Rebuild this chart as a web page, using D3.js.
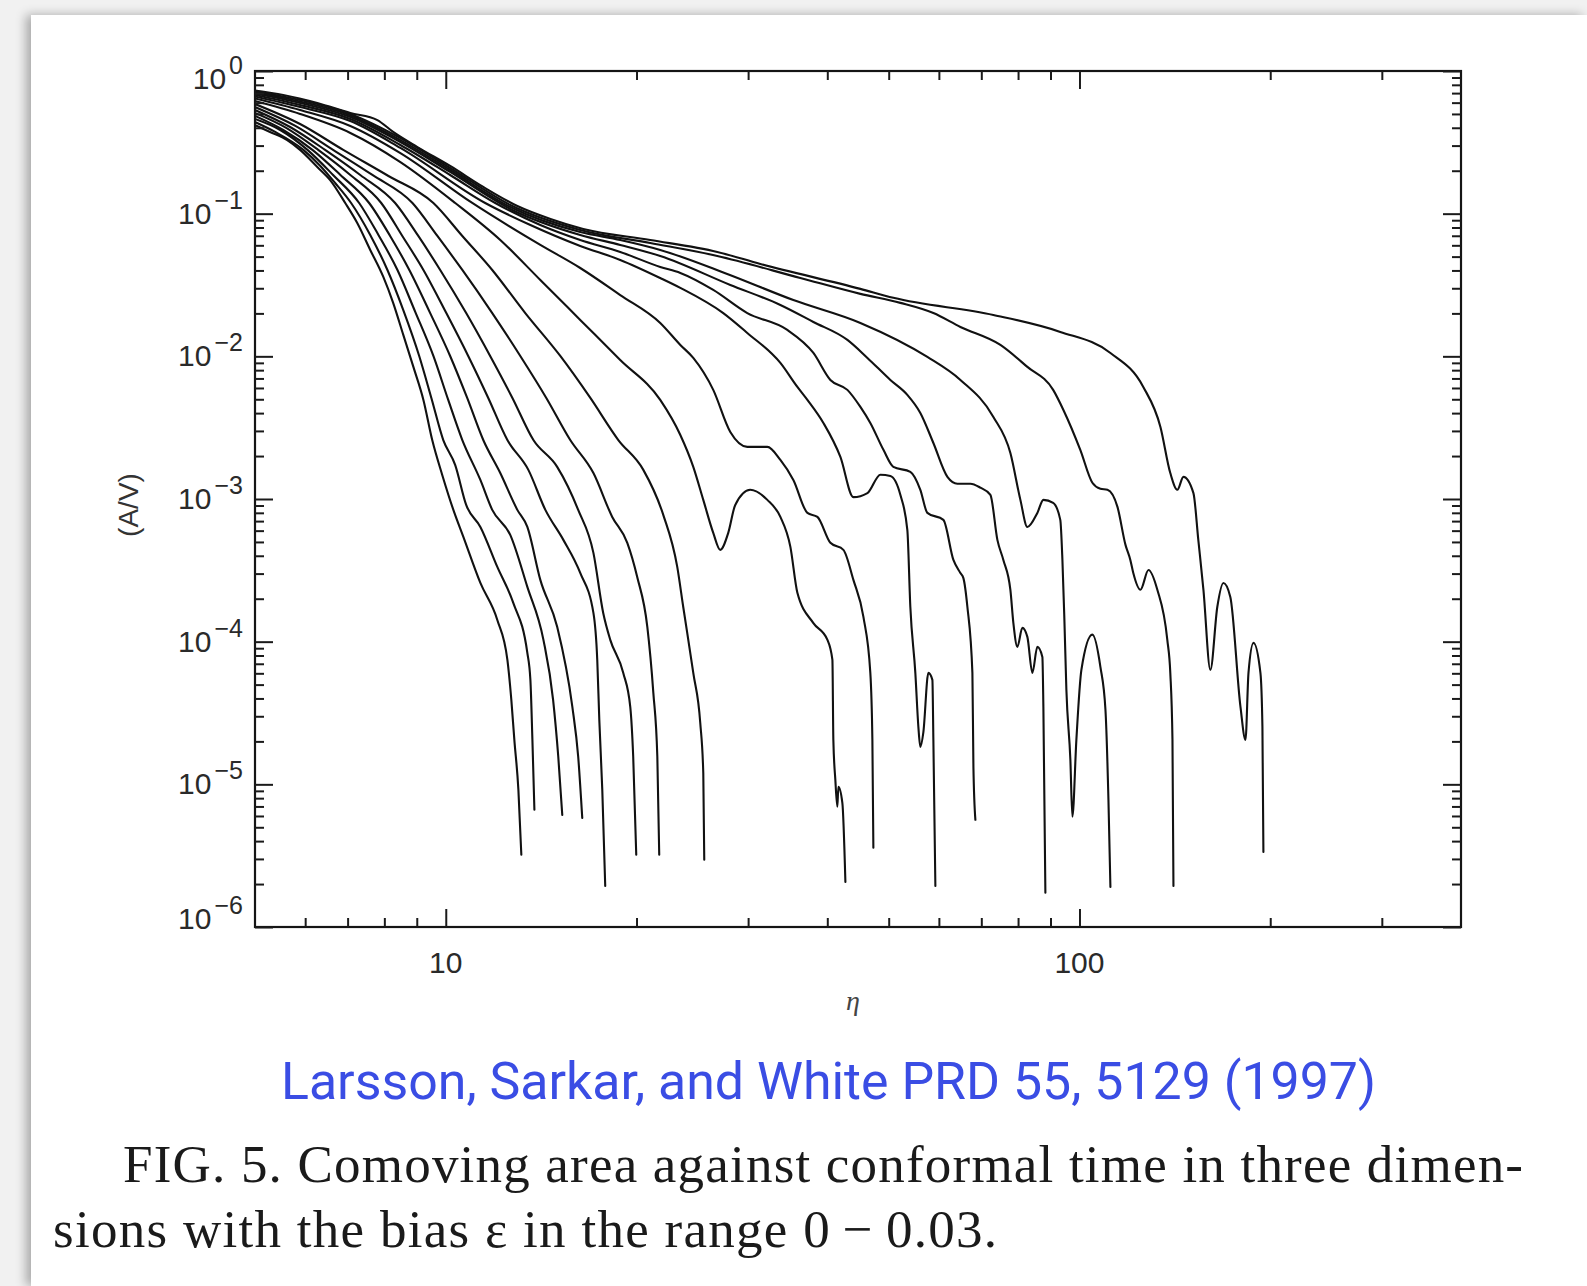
<!DOCTYPE html>
<html><head><meta charset="utf-8">
<script src="https://cdn.jsdelivr.net/npm/d3@7"></script>
<style>
html,body{margin:0;padding:0;background:#f1f1f1;width:1587px;height:1286px;overflow:hidden}
#card{position:absolute;left:31px;top:15px;width:1556px;height:1271px;background:#fff;box-shadow:-5px 0 10px rgba(0,0,0,0.30)}
svg{position:absolute;left:0;top:0}
</style></head><body><div id="card"></div><svg id="chart" width="1587" height="1286"></svg>
<script>
// ---- data (eta, A/V) ----
const etaDomain = [5, 400];
const areaDomain = [1e-6, 1];
const yTickExponents = [0, -1, -2, -3, -4, -5, -6];
const xTickLabels = [10, 100];
const xMinorTicks = [6, 7, 8, 9, 20, 30, 40, 50, 60, 70, 80, 90, 200, 300];

const curve01 = [[5.0,0.418],[5.28,0.374],[5.62,0.328],[5.89,0.280],[6.27,0.2125],[6.57,0.172],[6.94,0.1188],[7.25,0.0861],[7.60,0.0557],[7.97,0.0360],[8.26,0.0237],[8.57,0.01413],[8.89,0.00843],[9.22,0.00495],[9.52,0.00259],[9.87,0.00148],[10.28,0.000839],[10.66,0.000543],[11.34,0.000258],[12.06,0.000142],[12.51,0.0000746],[12.69,0.0000391],[12.83,0.0000205],[13.02,0.00000915],[13.16,0.00000321]];
const curve02 = [[5.0,0.439],[5.38,0.374],[5.96,0.280],[6.34,0.216],[6.69,0.164],[7.09,0.1188],[7.60,0.0709],[8.09,0.0403],[8.57,0.0211],[9.08,0.01006],[9.49,0.00511],[9.91,0.00259],[10.35,0.00173],[10.77,0.000909],[11.34,0.000637],[12.06,0.000334],[12.78,0.000187],[13.45,0.0000835],[13.60,0.0000540],[13.70,0.0000205],[13.80,0.00000663]];
const curve03 = [[5.0,0.461],[5.48,0.386],[6.05,0.280],[6.64,0.1867],[7.30,0.1188],[7.83,0.0709],[8.39,0.0403],[8.95,0.0205],[9.56,0.01006],[10.09,0.00495],[10.62,0.00259],[11.34,0.00136],[11.84,0.000839],[12.64,0.000560],[13.45,0.000242],[14.26,0.000103],[14.77,0.0000391],[15.05,0.0000156],[15.27,0.00000611]];
const curve04 = [[5.0,0.484],[5.54,0.386],[6.16,0.280],[6.82,0.1867],[7.57,0.1188],[8.17,0.0698],[8.76,0.0403],[9.45,0.0201],[10.16,0.01006],[10.81,0.00511],[11.46,0.00259],[12.19,0.00152],[12.97,0.000839],[13.45,0.000637],[14.10,0.000271],[14.99,0.000127],[15.84,0.0000349],[16.18,0.0000156],[16.42,0.00000582]];
const curve05 = [[5.0,0.508],[5.60,0.399],[6.29,0.280],[7.07,0.1867],[7.91,0.1188],[8.54,0.0698],[9.22,0.0403],[10.02,0.0201],[10.85,0.01006],[11.67,0.00511],[12.51,0.00259],[13.50,0.00160],[14.36,0.000839],[15.33,0.000517],[16.30,0.000303],[17.10,0.000159],[17.34,0.0000746],[17.47,0.0000283],[17.66,0.00000915],[17.85,0.00000194]];
const curve06 = [[5.0,0.533],[5.68,0.405],[6.45,0.280],[7.33,0.1867],[8.32,0.1188],[9.05,0.0698],[9.80,0.0403],[10.77,0.0201],[11.75,0.01006],[12.74,0.00511],[13.75,0.00259],[14.99,0.00168],[16.18,0.000839],[17.10,0.000419],[17.72,0.000159],[18.18,0.000103],[19.06,0.0000604],[19.55,0.0000349],[19.76,0.0000156],[19.98,0.00000321]];
const curve07 = [[5.0,0.559],[5.79,0.412],[6.64,0.280],[7.66,0.1867],[8.86,0.1188],[9.70,0.0698],[10.62,0.0403],[11.84,0.0201],[13.11,0.01006],[14.41,0.00511],[15.72,0.00259],[17.10,0.00152],[18.31,0.000749],[19.34,0.000493],[20.05,0.000284],[20.80,0.000127],[21.26,0.0000438],[21.57,0.0000156],[21.72,0.00000321]];
const curve08 = [[5.0,0.587],[5.89,0.425],[6.89,0.280],[8.12,0.1837],[9.56,0.1188],[10.62,0.0698],[11.84,0.0403],[13.35,0.0201],[15.16,0.01006],[16.91,0.00511],[18.72,0.00259],[20.50,0.00160],[22.04,0.000774],[23.19,0.000334],[23.70,0.000175],[24.58,0.0000604],[25.21,0.0000270],[25.49,0.0000120],[25.58,0.00000296]];
const curve09 = [[5.0,0.616],[5.89,0.4996],[7.07,0.368],[8.48,0.230],[10.35,0.1188],[12.19,0.0654],[14.10,0.0343],[16.30,0.0180],[18.85,0.00943],[21.80,0.00495],[23.45,0.00281],[24.58,0.00168],[25.49,0.000986],[26.43,0.000579],[27.11,0.000440],[27.91,0.000579],[28.63,0.000909],[30.23,0.00116],[32.17,0.000986],[33.73,0.000749],[34.98,0.000462],[35.88,0.000220],[38.03,0.000135],[40.02,0.000103],[40.75,0.0000746],[40.89,0.0000205],[41.19,0.0000107],[41.49,0.00000696],[41.64,0.00000960],[42.25,0.00000742],[42.72,0.00000207]];
const curve10 = [[5.0,0.642],[5.89,0.533],[7.07,0.412],[8.48,0.266],[11.01,0.1188],[14.10,0.0604],[16.30,0.0416],[18.85,0.0269],[21.80,0.01714],[23.45,0.01202],[24.58,0.00975],[26.43,0.00582],[28.12,0.00295],[29.91,0.00232],[32.17,0.00232],[33.73,0.00188],[35.36,0.00136],[37.21,0.000799],[38.59,0.000749],[40.45,0.000493],[42.41,0.000440],[43.98,0.000271],[45.61,0.000149],[46.77,0.0000604],[47.12,0.0000205],[47.29,0.00000359]];
const curve11 = [[5.0,0.663],[5.89,0.559],[7.07,0.446],[8.48,0.289],[11.54,0.1188],[13.60,0.0833],[16.30,0.0594],[18.85,0.0474],[21.80,0.0354],[23.45,0.0302],[27.41,0.0201],[29.91,0.01459],[33.73,0.00899],[35.88,0.00610],[37.21,0.00495],[39.44,0.00341],[41.95,0.00197],[43.98,0.00103],[46.28,0.00110],[48.52,0.00148],[50.30,0.00145],[52.16,0.00107],[53.50,0.000607],[54.09,0.000175],[55.08,0.0000604],[55.69,0.0000253],[56.09,0.0000183],[56.70,0.0000230],[57.75,0.0000604],[58.60,0.0000540],[58.81,0.0000205],[59.24,0.00000194]];
const curve12 = [[5.0,0.679],[5.89,0.578],[7.07,0.461],[8.48,0.303],[10.16,0.1867],[11.97,0.1188],[14.10,0.0833],[16.30,0.0654],[18.85,0.0539],[21.80,0.0423],[23.45,0.0384],[26.43,0.0292],[29.91,0.0201],[34.59,0.01531],[38.03,0.01056],[40.45,0.00683],[43.03,0.00582],[45.11,0.00442],[46.77,0.00341],[49.05,0.00221],[50.85,0.00168],[54.09,0.00155],[56.09,0.00116],[57.54,0.000799],[60.99,0.000714],[63.25,0.000374],[64.88,0.000303],[65.59,0.000279],[66.55,0.000175],[67.77,0.0000604],[68.02,0.0000133],[68.51,0.00000564]];
const curve13 = [[5.0,0.6955],[5.89,0.597],[7.07,0.476],[8.48,0.318],[10.16,0.196],[12.64,0.1079],[16.30,0.0709],[18.85,0.0604],[21.80,0.0505],[28.12,0.03165],[33.73,0.0229],[38.03,0.01742],[43.03,0.01303],[46.28,0.00975],[50.30,0.00683],[53.50,0.00537],[56.09,0.00401],[58.81,0.00247],[61.89,0.00143],[64.18,0.00128],[67.28,0.00128],[69.77,0.00120],[72.35,0.00107],[74.21,0.000517],[75.84,0.000374],[77.80,0.000231],[78.65,0.000135],[79.80,0.0000920],[81.26,0.000125],[82.75,0.000108],[84.27,0.0000604],[85.81,0.0000920],[87.39,0.0000782],[87.71,0.0000349],[88.35,0.00000174]];
const curve14 = [[5.0,0.707],[5.89,0.611],[7.07,0.488],[8.48,0.328],[10.16,0.2024],[12.64,0.1114],[16.30,0.0744],[18.85,0.0654],[21.80,0.0557],[27.81,0.0378],[35.36,0.0248],[45.11,0.01714],[57.54,0.00990],[64.88,0.00683],[73.14,0.00376],[77.80,0.00210],[80.68,0.000986],[82.75,0.000637],[85.81,0.000799],[87.71,0.000986],[90.88,0.000939],[93.27,0.000714],[93.99,0.000374],[94.67,0.000142],[95.36,0.0000459],[96.75,0.0000148],[97.46,0.00000592],[98.88,0.0000205],[100.7,0.0000634],[104.8,0.000112],[107.9,0.0000666],[109.9,0.0000333],[111.1,0.00000779],[111.9,0.00000191]];
const curve15 = [[5.0,0.7185],[5.89,0.626],[7.07,0.4996],[8.48,0.339],[10.16,0.209],[12.64,0.1151],[16.30,0.0769],[21.02,0.0623],[26.82,0.0505],[36.27,0.0354],[45.11,0.0274],[52.16,0.0237],[58.81,0.0201],[64.88,0.01607],[75.03,0.01202],[82.75,0.00843],[90.88,0.00582],[94.33,0.00421],[100.3,0.00221],[104.8,0.00130],[107.9,0.00118],[110.7,0.00116],[114.8,0.000880],[118.2,0.000477],[120.3,0.000374],[121.6,0.000303],[124.8,0.000231],[128.5,0.000318],[132.7,0.000231],[137.6,0.000103],[139.1,0.0000604],[140.2,0.0000205],[140.7,0.00000194]];
const curve16 = [[5.0,0.730],[5.54,0.679],[6.27,0.597],[7.07,0.508],[7.80,0.453],[8.26,0.374],[9.02,0.293],[10.16,0.216],[11.46,0.154],[12.97,0.1132],[14.63,0.0918],[16.48,0.0781],[21.02,0.0654],[26.82,0.0539],[31.36,0.0444],[45.11,0.0297],[50.85,0.0257],[73.14,0.0195],[93.27,0.01483],[111.9,0.01056],[126.1,0.00610],[134.2,0.00320],[139.1,0.00152],[142.7,0.00116],[145.9,0.00143],[151.3,0.00110],[154.0,0.000517],[156.9,0.000231],[160.9,0.0000634],[165.0,0.000175],[168.7,0.000258],[173.0,0.000206],[179.5,0.0000349],[182.8,0.0000205],[184.8,0.0000604],[188.2,0.0000981],[193.0,0.0000604],[194.4,0.0000253],[195.1,0.00000336]];

const curves = [curve01, curve02, curve03, curve04, curve05, curve06, curve07, curve08,
                curve09, curve10, curve11, curve12, curve13, curve14, curve15, curve16];

const refText = "Larsson, Sarkar, and White PRD 55, 5129 (1997)";
const captionLines = ["FIG. 5. Comoving area against conformal time in three dimen-",
                      "sions with the bias \u03b5 in the range 0\u2009\u2212\u20090.03."];

// ---- drawing ----
const svg = d3.select("#chart");
const L = 255, R = 1461, T = 71, B = 927;
const x = d3.scaleLog().domain(etaDomain).range([L, R]);
const y = d3.scaleLog().domain(areaDomain).range([B, T]);

svg.append("clipPath").attr("id", "plotclip")
  .append("rect").attr("x", L).attr("y", T).attr("width", R - L).attr("height", B - T);

const line = d3.line().x(d => x(d[0])).y(d => y(d[1])).curve(d3.curveMonotoneX);
svg.append("g").attr("clip-path", "url(#plotclip)")
  .selectAll("path").data(curves).join("path")
  .attr("d", line).attr("fill", "none").attr("stroke", "#111")
  .attr("stroke-width", 2.1).attr("stroke-linejoin", "round").attr("stroke-linecap", "round");

// frame
svg.append("rect").attr("x", L).attr("y", T).attr("width", R - L).attr("height", B - T)
  .attr("fill", "none").attr("stroke", "#151515").attr("stroke-width", 2.2);

const yMajor = yTickExponents.map(e => Math.pow(10, e));
const yMinor = y.ticks().filter(v => Math.abs(Math.log10(v) - Math.round(Math.log10(v))) > 1e-6);

function axisG(axis, tx, ty) {
  svg.append("g").attr("transform", `translate(${tx},${ty})`).call(axis)
    .call(s => {
      s.select(".domain").remove();
      s.selectAll("text").remove();
      s.selectAll("line").attr("stroke", "#1a1a1a").attr("stroke-width", 2);
    });
}
axisG(d3.axisBottom(x).tickValues(xTickLabels).tickSize(-18), 0, B);
axisG(d3.axisBottom(x).tickValues(xMinorTicks).tickSize(-9), 0, B);
axisG(d3.axisTop(x).tickValues(xTickLabels).tickSize(-18), 0, T);
axisG(d3.axisTop(x).tickValues(xMinorTicks).tickSize(-9), 0, T);
axisG(d3.axisLeft(y).tickValues(yMajor).tickSize(-18), L, 0);
axisG(d3.axisLeft(y).tickValues(yMinor).tickSize(-9), L, 0);
axisG(d3.axisRight(y).tickValues(yMajor).tickSize(-18), R, 0);
axisG(d3.axisRight(y).tickValues(yMinor).tickSize(-9), R, 0);

// y tick labels 10^n
const sans = "'Liberation Sans', Arial, Helvetica, sans-serif";
yTickExponents.forEach((e, i) => {
  const shift = i === 0 ? 8 : (i === yTickExponents.length - 1 ? -8 : 0);
  const t = svg.append("text").attr("x", 243).attr("y", y(Math.pow(10, e)) + 10 + shift)
    .attr("text-anchor", "end").attr("font-family", sans).attr("fill", "#2a2a2a");
  t.append("tspan").attr("font-size", 30).text("10");
  t.append("tspan").attr("font-size", 25).attr("dx", 3).attr("dy", -15)
    .text(e === 0 ? "0" : "\u2212" + (-e));
});

// x tick labels
svg.selectAll(".xl").data(xTickLabels).join("text")
  .attr("x", d => x(d)).attr("y", 973).attr("text-anchor", "middle")
  .attr("font-family", sans).attr("font-size", 30).attr("fill", "#2a2a2a")
  .text(d => d);

// axis titles
svg.append("text").attr("x", 853).attr("y", 1010).attr("text-anchor", "middle")
  .attr("font-family", "'Liberation Serif', 'DejaVu Serif', serif").attr("font-style", "italic")
  .attr("font-size", 28).attr("fill", "#444").text("\u03b7");
svg.append("text").attr("transform", "translate(138,505) rotate(-90)")
  .attr("text-anchor", "middle").attr("font-family", sans).attr("font-size", 28)
  .attr("fill", "#333").text("(A/V)");

// reference line (blue)
svg.append("text").attr("x", 281).attr("y", 1099)
  .attr("font-family", "Roboto, 'Noto Sans', sans-serif").attr("font-size", 52)
  .attr("fill", "#3a4de4").attr("textLength", 1095).attr("lengthAdjust", "spacingAndGlyphs")
  .text(refText);

// caption
const serif = "'Liberation Serif', 'Times New Roman', Times, serif";
svg.append("text").attr("x", 123).attr("y", 1182).attr("font-family", serif)
  .attr("font-size", 53).attr("fill", "#1a1a1a").attr("textLength", 1400)
  .attr("lengthAdjust", "spacing").text(captionLines[0]);
svg.append("text").attr("x", 53).attr("y", 1247).attr("font-family", serif)
  .attr("font-size", 53).attr("fill", "#1a1a1a").attr("textLength", 944)
  .attr("lengthAdjust", "spacing").text(captionLines[1]);
</script></body></html>
